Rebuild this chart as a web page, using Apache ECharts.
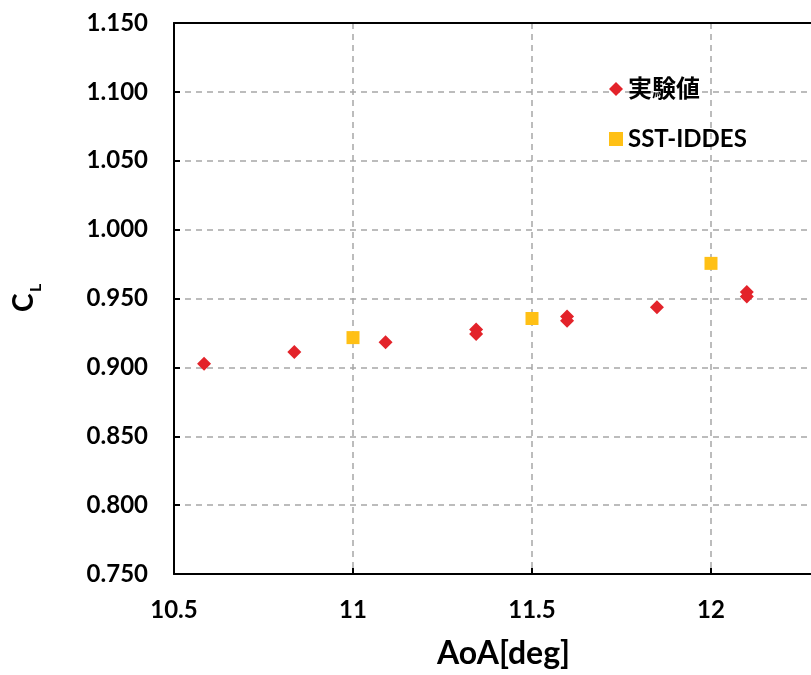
<!DOCTYPE html>
<html><head><meta charset="utf-8">
<script src="https://cdn.jsdelivr.net/npm/echarts@6/dist/echarts.min.js"></script>
<style>html,body{margin:0;padding:0;background:#fff;overflow:hidden;width:811px;height:675px}#c{position:absolute;left:0;top:0;width:890px;height:675px}</style>
</head><body><div id="c"></div>
<script>
var expAoA = [10.584, 10.836, 11.091, 11.344, 11.344, 11.598, 11.598, 11.849, 12.100, 12.100];
var expCL  = [0.9026, 0.9111, 0.9183, 0.9275, 0.9242, 0.9370, 0.9338, 0.9437, 0.9547, 0.9515];
var cfdAoA = [11.0, 11.5, 12.0];
var cfdCL  = [0.9216, 0.9355, 0.9755];
var xTicks = [10.5, 11, 11.5, 12, 12.5];
var yTicks = [0.75, 0.8, 0.85, 0.9, 0.95, 1.0, 1.05, 1.1, 1.15];
var seriesNames = ['実験値', 'SST-IDDES'];

function pairs(a, b) { return a.map(function (v, i) { return [v, b[i]]; }); }
var font = 'Lato, "Noto Sans CJK JP", sans-serif';
var chart = echarts.init(document.getElementById('c'), null, { width: 890, height: 675 });
chart.setOption({
  animation: false,
  grid: { left: 174, top: 23, right: 0, bottom: 101, show: false, containLabel: false, outerBoundsMode: 'none' },
  xAxis: [{
    type: 'value', min: xTicks[0], max: xTicks[xTicks.length - 1], interval: 0.5,
    axisLine: { show: true, lineStyle: { color: '#000', width: 2 } },
    axisTick: { show: true, inside: true, length: 6, lineStyle: { color: '#000', width: 2 } },
    axisLabel: { color: '#000', fontSize: 24, fontWeight: 'bold', fontFamily: font, margin: 24,
      formatter: function (v) { return String(+v.toFixed(1)); } },
    splitLine: { show: true, lineStyle: { color: '#A6A6A6', width: 1.5, type: [6, 5] } }
  }, {
    type: 'value', position: 'top', min: xTicks[0], max: xTicks[xTicks.length - 1],
    axisLine: { show: true, onZero: false, lineStyle: { color: '#000', width: 2 } },
    axisTick: { show: false }, axisLabel: { show: false }, splitLine: { show: false }
  }],
  yAxis: {
    type: 'value', min: yTicks[0], max: yTicks[yTicks.length - 1], interval: 0.05,
    axisLine: { show: true, lineStyle: { color: '#000', width: 2 } },
    axisTick: { show: true, inside: true, length: 6, lineStyle: { color: '#000', width: 2 } },
    axisLabel: { color: '#000', fontSize: 24, fontWeight: 'bold', fontFamily: font, margin: 26,
      formatter: function (v) { return v.toFixed(3); } },
    splitLine: { show: true, showMaxLine: false, lineStyle: { color: '#A6A6A6', width: 1.5, type: [6, 5] } }
  },
  legend: {
    orient: 'vertical', left: 604, top: 72, itemGap: 26, itemWidth: 14, itemHeight: 14,
    textStyle: { color: '#000', fontSize: 24, fontWeight: 'bold', fontFamily: font },
    data: [{ name: seriesNames[0], icon: 'diamond' }, { name: seriesNames[1], icon: 'rect' }]
  },
  graphic: [
    { type: 'text', left: 437, top: 638, style: { text: 'AoA[deg]', fill: '#000', font: 'bold 32px ' + font } },
    { type: 'group', x: 40, y: 300, rotation: Math.PI / 2, children: [
      { type: 'text', x: -12, y: -30, style: { text: 'C', fill: '#000', font: 'bold 28px ' + font } },
      { type: 'text', x: 8, y: -12, style: { text: 'L', fill: '#000', font: 'bold 16px ' + font } }
    ] }
  ],
  series: [
    { name: seriesNames[0], type: 'scatter', symbol: 'diamond', symbolSize: 14,
      itemStyle: { color: '#E3232A', opacity: 1 }, data: pairs(expAoA, expCL) },
    { name: seriesNames[1], type: 'scatter', symbol: 'rect', symbolSize: 13,
      itemStyle: { color: '#FFC015', opacity: 1 }, data: pairs(cfdAoA, cfdCL) }
  ]
});
</script></body></html>
